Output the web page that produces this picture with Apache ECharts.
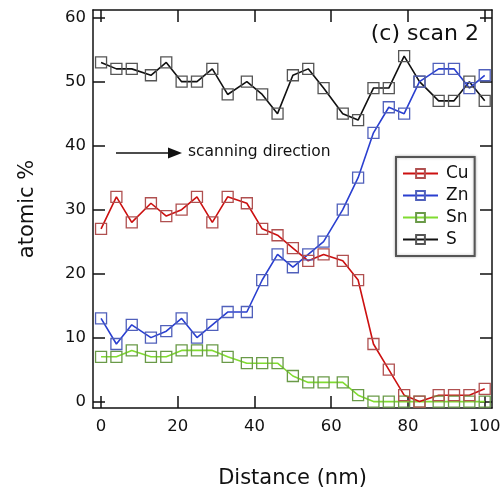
<!DOCTYPE html>
<html><head><meta charset="utf-8">
<script src="https://cdn.jsdelivr.net/npm/echarts@6/dist/echarts.min.js"></script>
<style>html,body{margin:0;padding:0;background:#fff}#c{width:502px;height:492px}</style>
</head><body><div id="c"></div>
<script>
var distance = [0,4,8,13,17,21,25,29,33,38,42,46,50,54,58,63,67,71,75,79,83,88,92,96,100];
var cu = [27,32,28,31,29,30,32,28,32,31,27,26,24,22,23,22,19,9,5,1,0,1,1,1,2];
var zn = [13,9,12,10,11,13,10,12,14,14,19,23,21,23,25,30,35,42,46,45,50,52,52,49,51];
var sn = [7,7,8,7,7,8,8,8,7,6,6,6,4,3,3,3,1,0,0,0,0,0,0,0,0];
var s  = [53,52,52,51,53,50,50,52,48,50,48,45,51,52,49,45,44,49,49,54,50,47,47,50,47];
var xTicks = [0,20,40,60,80,100];
var yTicks = [0,10,20,30,40,50,60];

function pairs(ys){ return distance.map(function(x,i){ return [x, ys[i]]; }); }
var FONT = 'DejaVu Sans';
function mk(name, vals, lineColor, markColor){
  return {name:name, type:'line', data:pairs(vals), symbol:'rect', symbolSize:11,
    lineStyle:{color:lineColor, width:1.6},
    itemStyle:{color:'rgba(255,255,255,0)', borderColor:markColor, borderWidth:1.3},
    emphasis:{disabled:true}, animation:false};
}
var tickStyle = {show:true, inside:true, length:12, lineStyle:{color:'#111', width:1.5}};
var chart = echarts.init(document.getElementById('c'));
chart.setOption({
  backgroundColor:'#fff',
  animation:false,
  grid:{left:93, right:10, top:10, bottom:84, outerBoundsMode:'none'},
  xAxis:[{type:'value', min:-2.1, max:101.9, position:'bottom',
     name:'Distance (nm)', nameLocation:'middle', nameGap:60,
     nameTextStyle:{fontFamily:FONT, fontSize:21, color:'#111'},
     axisLine:{show:true, onZero:false, lineStyle:{color:'#111', width:1.5}},
     axisTick:Object.assign({customValues:xTicks}, tickStyle),
     axisLabel:{customValues:xTicks, fontFamily:FONT, fontSize:16.5, color:'#111', margin:10},
     splitLine:{show:false}},
    {type:'value', min:-2.1, max:101.9, position:'top',
     axisLine:{show:true, onZero:false, lineStyle:{color:'#111', width:1.5}},
     axisTick:Object.assign({customValues:xTicks}, tickStyle),
     axisLabel:{show:false}, splitLine:{show:false}}],
  yAxis:[{type:'value', min:-1, max:61.2, position:'left',
     name:'atomic %', nameLocation:'middle', nameGap:55, nameRotate:90,
     nameTextStyle:{fontFamily:FONT, fontSize:21, color:'#111'},
     axisLine:{show:true, onZero:false, lineStyle:{color:'#111', width:1.5}},
     axisTick:Object.assign({customValues:yTicks}, tickStyle),
     axisLabel:{customValues:yTicks, fontFamily:FONT, fontSize:16.5, color:'#111', margin:7},
     splitLine:{show:false}},
    {type:'value', min:-1, max:61.2, position:'right',
     axisLine:{show:true, onZero:false, lineStyle:{color:'#111', width:1.5}},
     axisTick:Object.assign({customValues:yTicks}, tickStyle),
     axisLabel:{show:false}, splitLine:{show:false}}],
  legend:{left:396, top:157, orient:'vertical', itemWidth:35, itemHeight:11, itemGap:5,
    padding:[8,6,8,6], borderColor:'#555', borderWidth:2, backgroundColor:'#fff',
    shadowColor:'rgba(0,0,0,0.25)', shadowBlur:3,
    textStyle:{fontFamily:FONT, fontSize:17, color:'#111', padding:[0,0,0,3]},
    data:['Cu','Zn','Sn','S']},
  graphic:[
    {type:'text', right:23, top:23, z:10, style:{text:'(c) scan 2', fontFamily:FONT, fontSize:22, fill:'#111'}},
    {type:'line', shape:{x1:116, y1:153, x2:172, y2:153}, style:{stroke:'#111', lineWidth:1.5}, z:10},
    {type:'polygon', shape:{points:[[182,153],[168,147.5],[168,158.5]]}, style:{fill:'#111'}, z:10},
    {type:'text', left:188, top:144, z:10, style:{text:'scanning direction', fontFamily:FONT, fontSize:15.5, fill:'#111'}}
  ],
  series:[
    mk('S', s, '#111', '#555'),
    mk('Sn', sn, '#80dc30', '#6a9a48'),
    mk('Zn', zn, '#2a3fd0', '#5060bb'),
    mk('Cu', cu, '#cc1010', '#b05050')
  ]
});
</script></body></html>
